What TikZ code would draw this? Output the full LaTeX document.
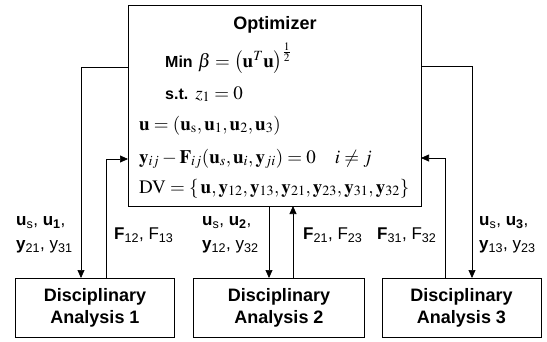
\documentclass[tikz,border=0pt]{standalone}
\usepackage{mathptmx}
\usepackage[no-math]{fontspec}
\setmainfont{Liberation Sans}
\usetikzlibrary{arrows.meta}
\newcommand\sbs[1]{\textsubscript{#1}}
\begin{document}
\begin{tikzpicture}[x=1pt,y=-1pt,
  box/.style={draw, line width=0.8pt, inner sep=0pt, outer sep=0pt},
  dabox/.style={box, minimum height=59pt, align=center,
    font=\bfseries\fontsize{18}{22}\selectfont},
  arr/.style={-{Triangle[length=8pt,width=7pt]}, line width=0.7pt},
  lbl/.style={anchor=west, inner sep=0pt, align=left,
    font=\fontsize{17}{24}\selectfont},
  mline/.style={anchor=base west, inner sep=0pt, font=\fontsize{19}{22}\selectfont},
  kw/.style={font=\bfseries\fontsize{16}{19}\selectfont},
]
\useasboundingbox (0,0) rectangle (547,341);

% optimizer and the three disciplinary analyses
\node[box, minimum width=293pt, minimum height=201pt] (opt) at (274.5,105.5) {};
\node[dabox, minimum width=159pt] (da1) at (95,307.5) {Disciplinary\\Analysis 1};
\node[dabox, minimum width=171pt] (da2) at (279,307.5) {Disciplinary\\Analysis 2};
\node[dabox, minimum width=159pt] (da3) at (461.5,307.5) {Disciplinary\\Analysis 3};

% optimizer contents
\node[anchor=base, inner sep=0pt, font=\bfseries\fontsize{18}{22}\selectfont] (title) at (275,29) {Optimizer};
\node[mline] (obj) at (165,67) {{\bfseries\fontsize{16}{19}\selectfont Min} $\beta=\left(\mathbf{u}^{T}\mathbf{u}\right)^{\frac{1}{2}}$};
\node[mline] (cons) at (165,99) {{\bfseries\fontsize{16}{19}\selectfont s.t.} $z_1=0$};
\node[mline] (uvec) at (139,130) {$\mathbf{u}=(\mathbf{u}_{\mathrm{s}},\mathbf{u}_1,\mathbf{u}_2,\mathbf{u}_3)$};
\node[mline] (coup) at (139,163) {$\mathbf{y}_{ij}-\mathbf{F}_{ij}(\mathbf{u}_s,\mathbf{u}_i,\mathbf{y}_{ji})=0\quad i\neq j$};
\node[mline] (dv) at (139,193) {$\mathrm{DV}=\{\,\mathbf{u},\mathbf{y}_{12},\mathbf{y}_{13},\mathbf{y}_{21},\mathbf{y}_{23},\mathbf{y}_{31},\mathbf{y}_{32}\}$};

% connector routing points
\coordinate (l1) at (81,67);
\coordinate (l2) at (106,159);
\coordinate (m1) at (269,0);
\coordinate (m2) at (293,0);
\coordinate (r1) at (472,66);
\coordinate (r2) at (445,158);

\draw[arr] (opt.west |- l1) -| (da1.north -| l1);
\draw[arr] (da1.north -| l2) |- (opt.west |- l2);
\draw[arr] (opt.south -| m1) -- (da2.north -| m1);
\draw[arr] (da2.north -| m2) -- (opt.south -| m2);
\draw[arr] (opt.east |- r1) -| (da3.north -| r1);
\draw[arr] (da3.north -| r2) |- (opt.east |- r2);

% connector labels
\node[lbl] (t1) at (16,235) {\textbf{u}\sbs{s}, \textbf{u\sbs{1}},\\\textbf{y}\sbs{21}, y\sbs{31}};
\node[lbl] (t2) at (114,235) {\textbf{F}\sbs{12}, F\sbs{13}};
\node[lbl] (t3) at (202,235) {\textbf{u}\sbs{s}, \textbf{u\sbs{2}},\\\textbf{y}\sbs{12}, y\sbs{32}};
\node[lbl] (t4) at (303,235) {\textbf{F}\sbs{21}, F\sbs{23}};
\node[lbl] (t5) at (377,235) {\textbf{F}\sbs{31}, F\sbs{32}};
\node[lbl] (t6) at (479,235) {\textbf{u}\sbs{s}, \textbf{u\sbs{3}},\\\textbf{y}\sbs{13}, y\sbs{23}};
\end{tikzpicture}
\end{document}
